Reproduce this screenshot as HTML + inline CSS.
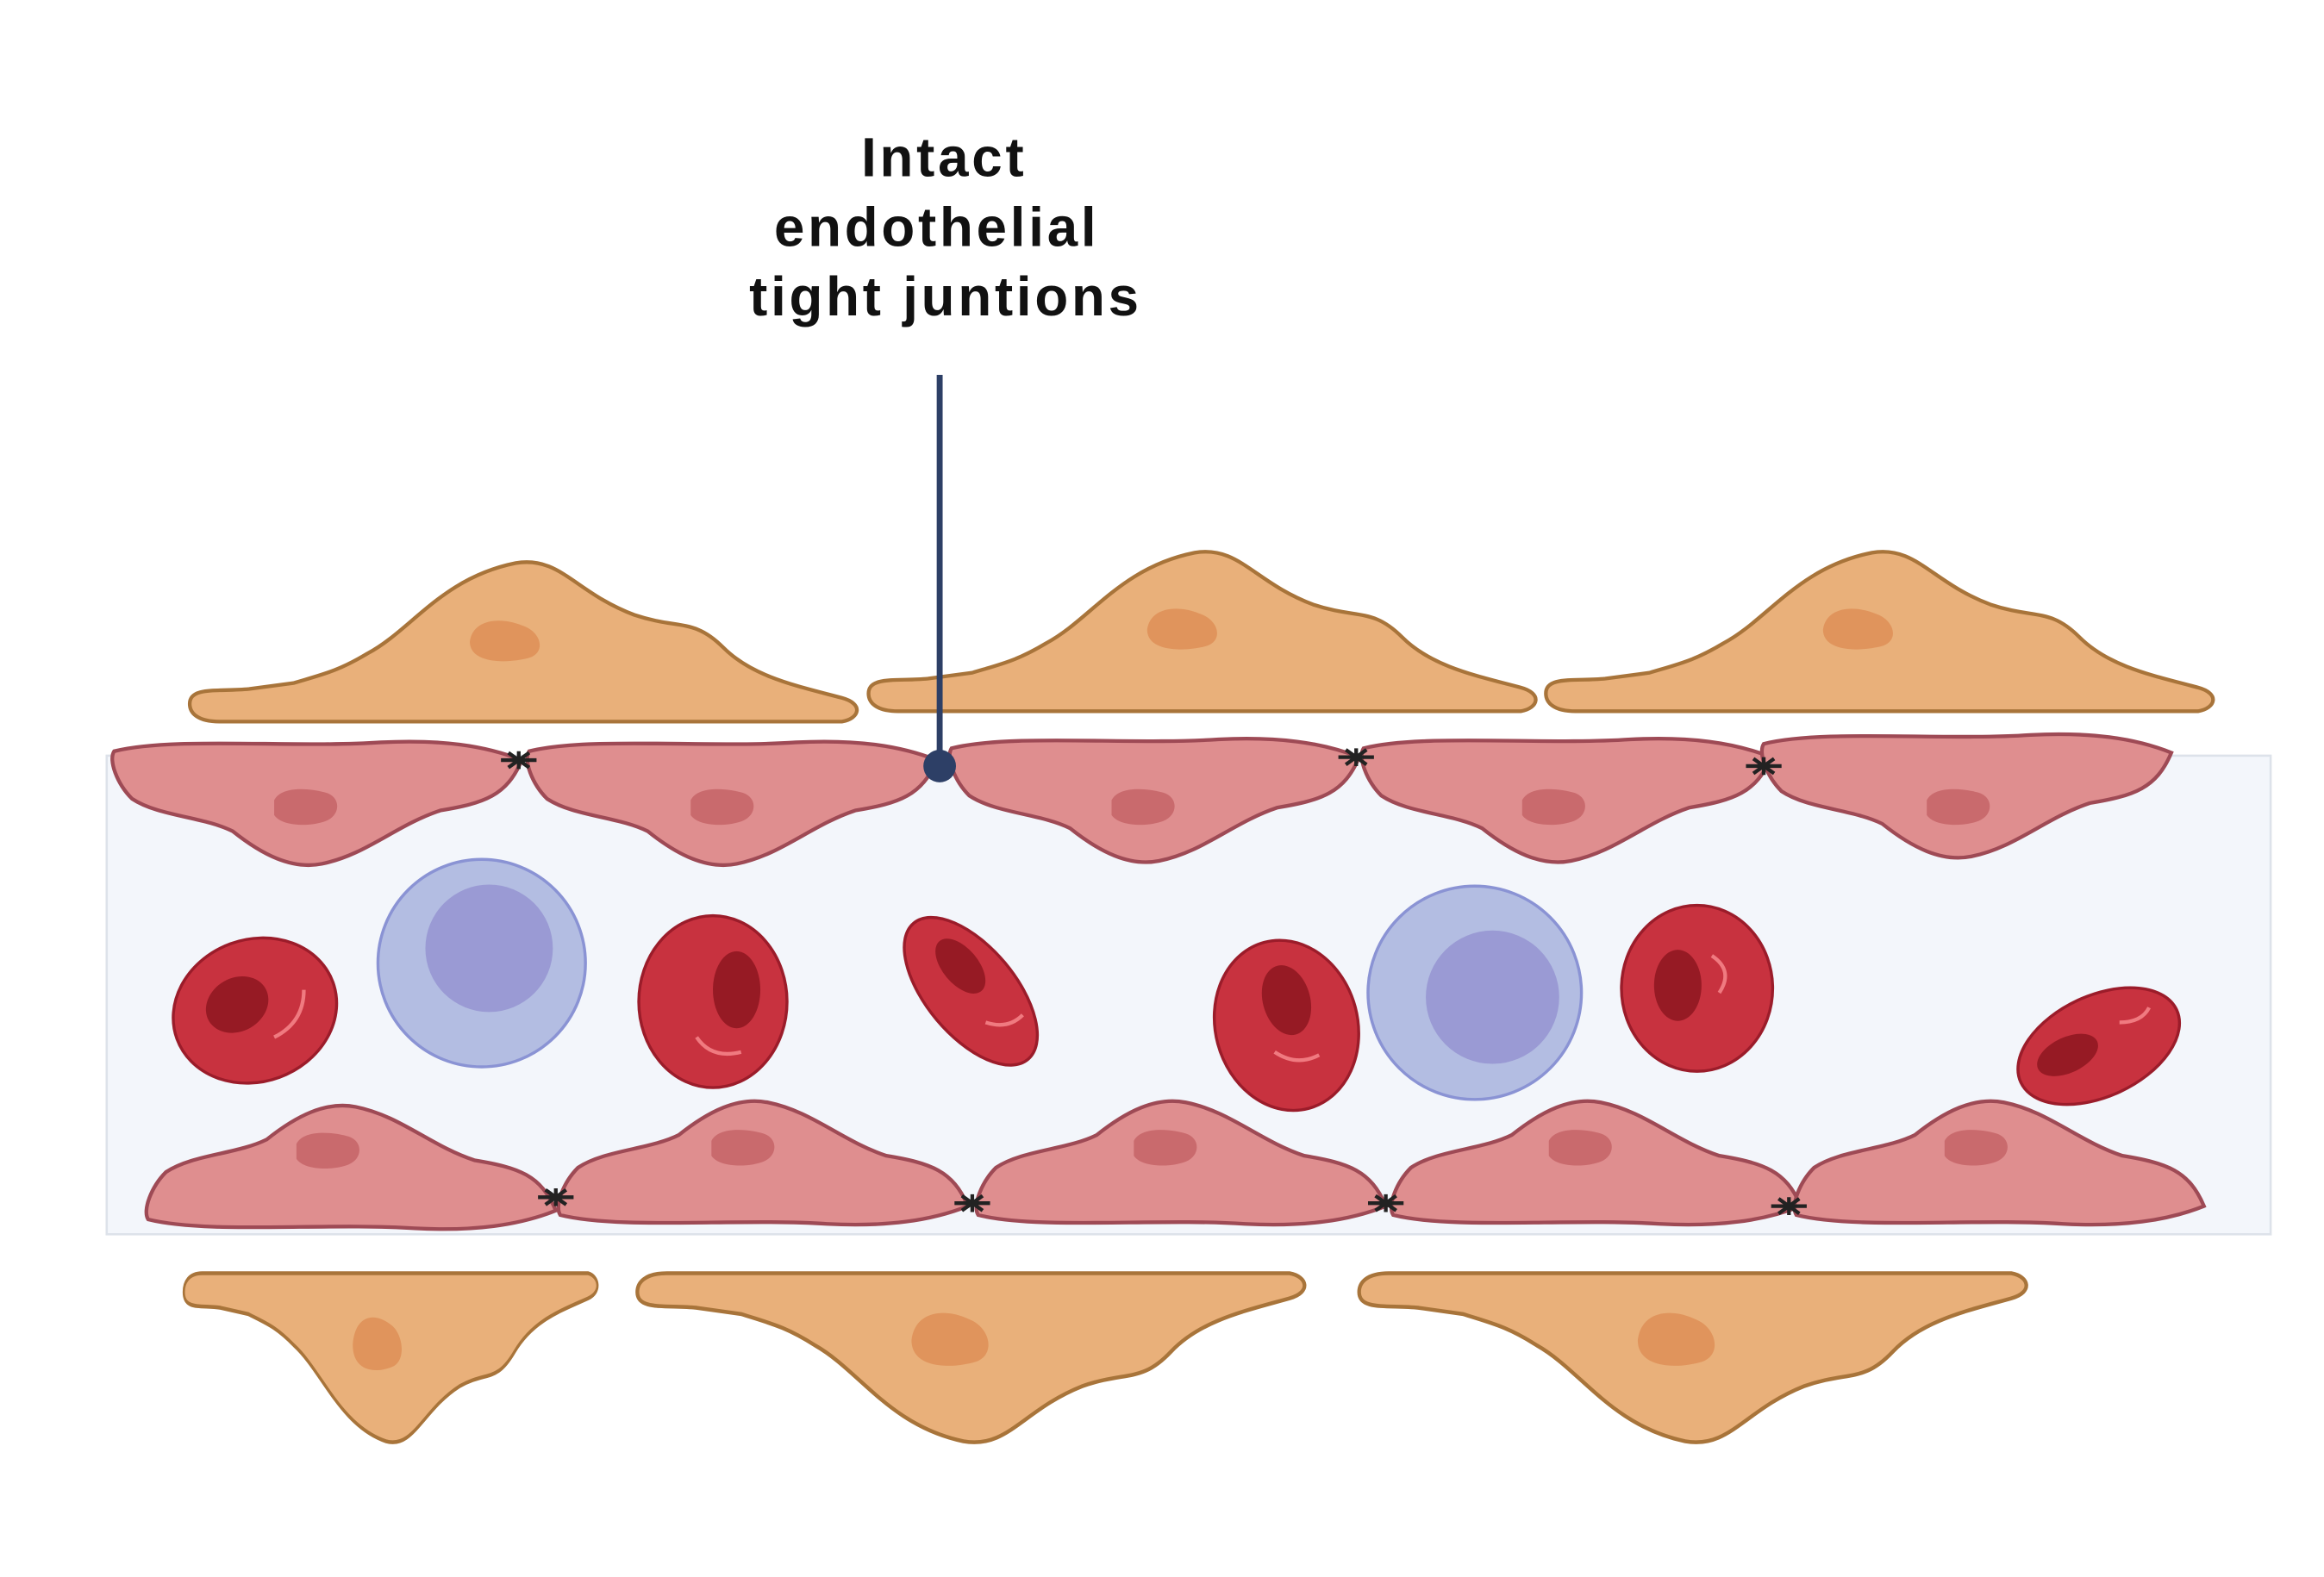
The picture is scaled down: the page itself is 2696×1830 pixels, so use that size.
<!DOCTYPE html>
<html><head><meta charset="utf-8"><style>html,body{margin:0;padding:0;background:#fff}svg{display:block}</style></head>
<body>
<svg width="2696" height="1830" viewBox="0 0 1568 1064.3" preserveAspectRatio="none" xmlns="http://www.w3.org/2000/svg">
<defs>
<path id="peri" d="M0,100 C0,88 20,92 40,90 L70,86 C90,80 100,78 120,66 C150,50 170,15 220,5 C250,0 260,25 300,40 C330,50 340,42 360,62 C380,82 410,88 440,96 C455,100 452,110 440,112 L20,112 C5,112 0,106 0,100Z" fill="#e9b07a" stroke="#a8743a" stroke-width="2.5"/>
<path id="endo" d="M0,10 C40,0 120,8 180,4 C220,2 250,6 275,16 C265,40 250,45 220,50 C190,60 170,80 140,86 C120,90 100,80 80,64 C60,54 30,54 12,42 C2,32 -4,16 0,10Z" fill="#df8e8f" stroke="#9e4a55" stroke-width="2.5"/>
<path id="enuc" d="M0,10 C5,0 25,2 35,5 C45,8 45,20 35,24 C25,28 5,28 0,20Z" fill="#c96a6d"/>
<path id="pnuc" d="M0,15 C2,0 20,-2 35,4 C48,8 52,22 40,26 C25,30 0,30 0,15Z" fill="#e0945c"/>
<g id="jx"><path d="M-12,0 L12,0 M-7,-5 L7,5 M-7,5 L7,-5 M0,-6 L0,6" stroke="#222" stroke-width="2.5"/></g>
</defs>
<rect x="72" y="510" width="1460" height="323" fill="#f3f6fb" stroke="#dde2ea" stroke-width="1.5"/>
<text font-family="Liberation Sans, sans-serif" font-size="37" font-weight="bold" fill="#111" text-anchor="middle" letter-spacing="2.2">
<tspan x="637" y="119">Intact</tspan><tspan x="632" y="166">endothelial</tspan><tspan x="638" y="213">tight juntions</tspan></text>
<use href="#peri" transform="translate(128,375)"/>
<use href="#peri" transform="translate(586,368)"/>
<use href="#peri" transform="translate(1043,368)"/>
<use href="#pnuc" transform="translate(317,418)"/>
<use href="#pnuc" transform="translate(774,410)"/>
<use href="#pnuc" transform="translate(1230,410)"/>
<use href="#endo" transform="translate(77,497)"/>
<use href="#endo" transform="translate(357,497)"/>
<use href="#endo" transform="translate(642,495)"/>
<use href="#endo" transform="translate(920,495)"/>
<use href="#endo" transform="translate(1190,492)"/>
<use href="#enuc" transform="translate(185,530)"/>
<use href="#enuc" transform="translate(466,530)"/>
<use href="#enuc" transform="translate(750,530)"/>
<use href="#enuc" transform="translate(1027,530)"/>
<use href="#enuc" transform="translate(1300,530)"/>
<use href="#endo" transform="translate(100,833) scale(1,-1)"/>
<use href="#endo" transform="translate(378,830) scale(1,-1)"/>
<use href="#endo" transform="translate(660,830) scale(1,-1)"/>
<use href="#endo" transform="translate(940,830) scale(1,-1)"/>
<use href="#endo" transform="translate(1212,830) scale(1,-1)"/>
<use href="#enuc" transform="translate(200,762)"/>
<use href="#enuc" transform="translate(480,760)"/>
<use href="#enuc" transform="translate(765,760)"/>
<use href="#enuc" transform="translate(1045,760)"/>
<use href="#enuc" transform="translate(1312,760)"/>
<use href="#peri" transform="translate(124,978) scale(0.62,-1.06)"/>
<use href="#peri" transform="translate(430,978) scale(1,-1.06)"/>
<use href="#peri" transform="translate(917,978) scale(1,-1.06)"/>
<use href="#pnuc" transform="translate(238,888) scale(0.7,1.3)"/>
<use href="#pnuc" transform="translate(615,885) scale(1.1,1.3)"/>
<use href="#pnuc" transform="translate(1105,885) scale(1.1,1.3)"/>
<use href="#jx" x="350" y="513"/><use href="#jx" x="915" y="511"/><use href="#jx" x="1190" y="517"/>
<use href="#jx" x="375" y="808"/><use href="#jx" x="656" y="812"/><use href="#jx" x="935" y="812"/><use href="#jx" x="1207" y="814"/>
<circle cx="325" cy="650" r="70" fill="#b3bde2" stroke="#8a93d4" stroke-width="2"/>
<circle cx="330" cy="640" r="43" fill="#9a9ad4"/>
<circle cx="995" cy="670" r="72" fill="#b3bde2" stroke="#8a93d4" stroke-width="2"/>
<circle cx="1007" cy="673" r="45" fill="#9a9ad4"/>
<g fill="#c8323f" stroke="#9b1c2a" stroke-width="2">
<ellipse cx="172" cy="682" rx="56" ry="48" transform="rotate(-20 172 682)"/>
<ellipse cx="481" cy="676" rx="50" ry="58"/>
<ellipse cx="655" cy="669" rx="30" ry="60" transform="rotate(-40 655 669)"/>
<ellipse cx="868" cy="692" rx="48" ry="58" transform="rotate(-15 868 692)"/>
<ellipse cx="1145" cy="667" rx="51" ry="56"/>
<ellipse cx="1416" cy="706" rx="58" ry="34" transform="rotate(-25 1416 706)"/>
</g>
<g fill="#961a24">
<ellipse cx="160" cy="678" rx="22" ry="18" transform="rotate(-30 160 678)"/>
<ellipse cx="497" cy="668" rx="16" ry="26"/>
<ellipse cx="648" cy="652" rx="12" ry="22" transform="rotate(-40 648 652)"/>
<ellipse cx="868" cy="675" rx="16" ry="24" transform="rotate(-15 868 675)"/>
<ellipse cx="1132" cy="665" rx="16" ry="24"/>
<ellipse cx="1395" cy="712" rx="22" ry="12" transform="rotate(-25 1395 712)"/>
</g>
<g fill="none" stroke="#f07a80" stroke-width="2.5">
<path d="M185,700 Q205,690 205,668"/><path d="M470,700 Q480,715 500,710"/><path d="M665,690 Q680,695 690,685"/>
<path d="M860,710 Q875,720 890,712"/><path d="M1155,645 Q1170,655 1160,670"/><path d="M1430,690 Q1445,690 1450,680"/>
</g>
<line x1="634" y1="253" x2="634" y2="517" stroke="#2d3f66" stroke-width="4"/>
<circle cx="634" cy="517" r="11" fill="#2d3f66"/>
</svg>
</body></html>
